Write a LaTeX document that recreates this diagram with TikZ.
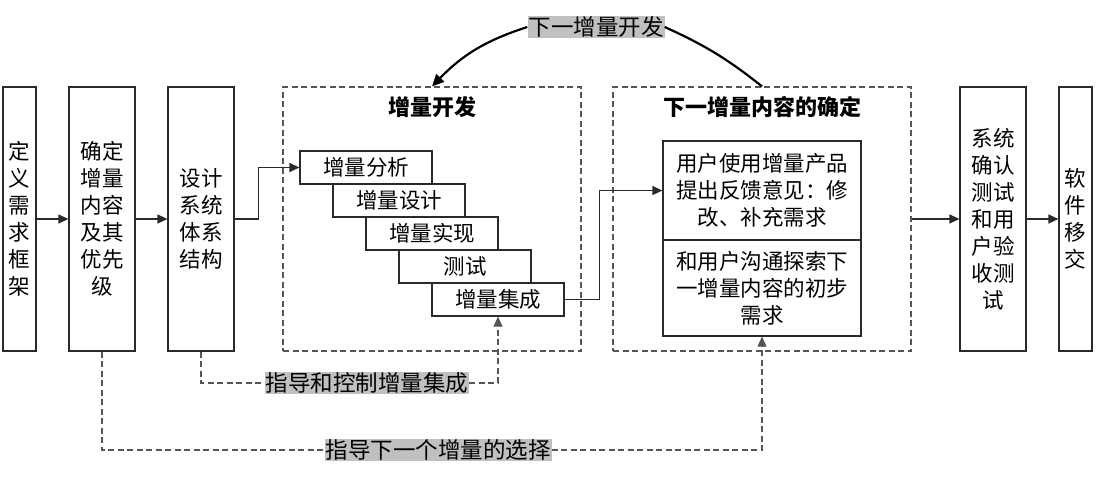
\documentclass[tikz,border=0pt]{standalone}
\usepackage{fontspec}
\setmainfont{Noto Sans CJK SC}
\usetikzlibrary{arrows.meta,positioning}
\definecolor{lab}{HTML}{C0C0C0}
\definecolor{edge}{HTML}{2A2A2A}
\definecolor{dash}{HTML}{555555}
\tikzset{
  box/.style={draw=edge, line width=1.2pt, align=center, inner sep=0pt,
    font=\fontsize{21.5}{27}\selectfont},
  stepbox/.style={box, minimum width=132pt, minimum height=33pt},
  group/.style={draw=dash, line width=1.2pt, dash pattern=on 6pt off 3.5pt, minimum width=298pt, minimum height=264pt},
  title/.style={font=\fontsize{22}{26}\selectfont\bfseries},
  lbl/.style={fill=lab, inner sep=1pt, font=\fontsize{22.5}{26}\selectfont},
  arr/.style={draw=edge, line width=1.2pt, -{Triangle[length=10pt,width=9pt]}},
  guide/.style={draw=dash, line width=1.1pt, dash pattern=on 6pt off 3.5pt},
  garr/.style={guide, -{Triangle[length=10pt,width=9pt]}},
}
\begin{document}
\begin{tikzpicture}[x=1pt,y=-1pt]
\useasboundingbox (0,0) rectangle (1097,480);
% left boxes
\node[box, minimum width=33pt, minimum height=264pt] (n1) at (19.5,219) {定\\义\\需\\求\\框\\架};
\node[box, minimum width=66pt, minimum height=264pt] (n2) at (102,219) {确定\\增量\\内容\\及其\\优先\\级};
\node[box, minimum width=66pt, minimum height=264pt] (n3) at (201,219) {设计\\系统\\体系\\结构};
% group 1
\node[group] (g1) at (432,219) {};
\node[title] (t1) at (432,107) {增量开发};
\node[stepbox] (s1) at (366,167.5) {增量分析};
\node[stepbox] (s2) at (399,200.5) {增量设计};
\node[stepbox] (s3) at (432,233.5) {增量实现};
\node[stepbox] (s4) at (465,266.5) {测试};
\node[stepbox] (s5) at (498,299.5) {增量集成};
% group 2
\node[group] (g2) at (762,219) {};
\node[title] (t2) at (762,107) {下一增量内容的确定};
\node[box, minimum width=198pt, minimum height=99pt] (u1) at (762,190.5) {用户使用增量产品\\提出反馈意见：修\\改、补充需求};
\node[box, minimum width=198pt, minimum height=96pt] (u2) at (762,288) {和用户沟通探索下\\一增量内容的初步\\需求};
% right boxes
\node[box, minimum width=66pt, minimum height=264pt] (n4) at (993,219) {系统\\确认\\测试\\和用\\户验\\收测\\试};
\node[box, minimum width=33pt, minimum height=264pt] (n5) at (1075.5,219) {软\\件\\移\\交};
% labels
\node[lbl] (lab1) at (596,27) {下一增量开发};
\node[lbl] (lab2) at (367,383) {指导和控制增量集成};
\node[lbl] (lab3) at (438,450) {指导下一个增量的选择};
% solid connectors
\draw[arr] (n1.east) -- (n2.west);
\draw[arr] (n2.east) -- (n3.west);
\draw[arr] (n3.east) -- ++(24,0) |- (s1.west);
\draw[arr] (s5.east) -- ++(35,0) |- (u1.west);
\draw[arr] (g2.east) -- (n4.west);
\draw[arr] (n4.east) -- (n5.west);
% curved feedback
\draw[line width=2.2pt] (g2.north) to[bend right=7] (lab1.east);
\draw[line width=2.2pt, -{Triangle[length=12pt,width=11pt]}] (lab1.west) to[bend right=14] (g1.north);
% dashed guides
\draw[guide] (n3.south) |- (lab2.west);
\draw[garr] (lab2.east) -| (s5.south);
\draw[guide] (n2.south) |- (lab3.west);
\draw[garr] (lab3.east) -| (u2.south);
\end{tikzpicture}
\end{document}
